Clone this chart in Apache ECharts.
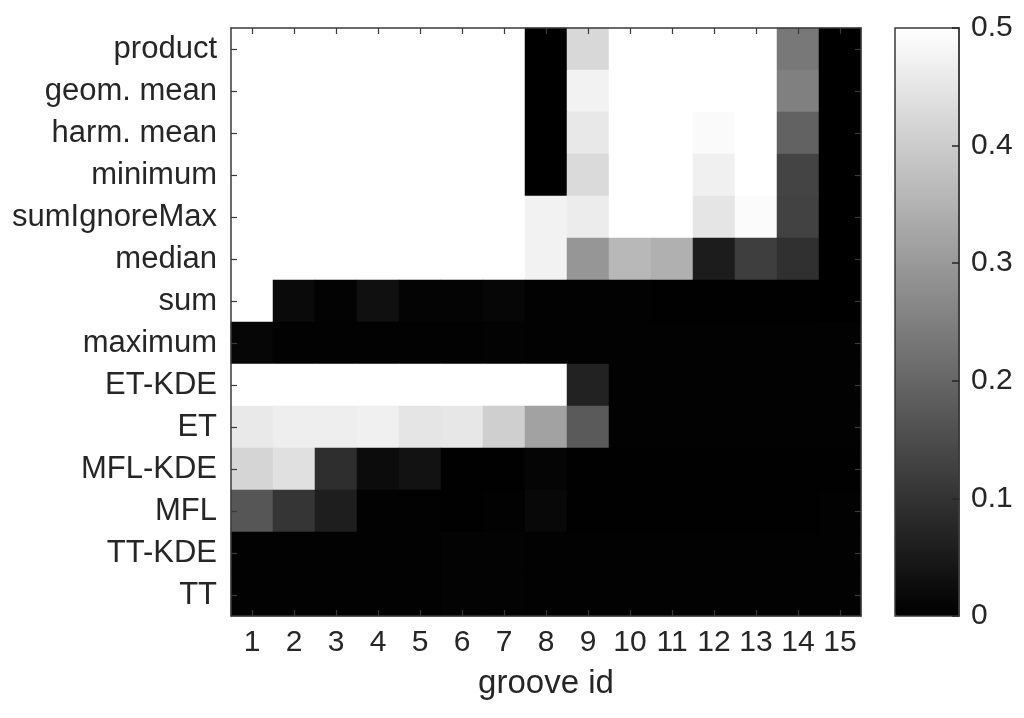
<!DOCTYPE html>
<html>
<head>
<meta charset="utf-8">
<script src="https://cdn.jsdelivr.net/npm/echarts@6/dist/echarts.min.js"></script>
<style>
  html, body { margin: 0; padding: 0; background: #fff; }
  #chart { width: 1024px; height: 718px; }
</style>
</head>
<body>
<div id="chart"></div>
<script>
// groove ids along x, methods along y (top to bottom)
var grooveIds = ['1', '2', '3', '4', '5', '6', '7', '8', '9', '10', '11', '12', '13', '14', '15'];
var methods = ['product', 'geom. mean', 'harm. mean', 'minimum', 'sumIgnoreMax', 'median', 'sum',
  'maximum', 'ET-KDE', 'ET', 'MFL-KDE', 'MFL', 'TT-KDE', 'TT'];

var product      = [0.5, 0.5, 0.5, 0.5, 0.5, 0.5, 0.5, 0, 0.423, 0.5, 0.5, 0.5, 0.5, 0.235, 0];
var geomMean     = [0.5, 0.5, 0.5, 0.5, 0.5, 0.5, 0.5, 0, 0.475, 0.5, 0.5, 0.5, 0.5, 0.251, 0];
var harmMean     = [0.5, 0.5, 0.5, 0.5, 0.5, 0.5, 0.5, 0, 0.455, 0.5, 0.5, 0.49, 0.5, 0.192, 0];
var minimum      = [0.5, 0.5, 0.5, 0.5, 0.5, 0.5, 0.5, 0, 0.427, 0.5, 0.5, 0.471, 0.5, 0.133, 0];
var sumIgnoreMax = [0.5, 0.5, 0.5, 0.5, 0.5, 0.5, 0.5, 0.475, 0.463, 0.5, 0.5, 0.449, 0.492, 0.129, 0];
var median       = [0.5, 0.5, 0.5, 0.5, 0.5, 0.5, 0.5, 0.475, 0.294, 0.361, 0.345, 0.055, 0.122, 0.094, 0];
var sum          = [0.5, 0.02, 0.006, 0.031, 0.008, 0.008, 0.012, 0.004, 0.004, 0.004, 0.002, 0.002, 0.002, 0.002, 0];
var maximum      = [0.012, 0.004, 0.004, 0.004, 0.004, 0.004, 0.006, 0.004, 0.004, 0.004, 0.004, 0.004, 0.004, 0.004, 0.004];
var etKde        = [0.5, 0.5, 0.5, 0.5, 0.5, 0.5, 0.5, 0.5, 0.067, 0.004, 0.004, 0.004, 0.004, 0.004, 0.004];
var et           = [0.457, 0.467, 0.467, 0.471, 0.449, 0.453, 0.406, 0.318, 0.176, 0.004, 0.004, 0.004, 0.004, 0.004, 0.004];
var mflKde       = [0.418, 0.44, 0.09, 0.024, 0.035, 0.002, 0.002, 0.01, 0.002, 0.002, 0.002, 0.002, 0.002, 0.002, 0.002];
var mfl          = [0.169, 0.104, 0.059, 0.004, 0.004, 0.002, 0.004, 0.016, 0.002, 0.002, 0.002, 0.002, 0.002, 0.002, 0.004];
var ttKde        = [0.004, 0.004, 0.004, 0.004, 0.004, 0.006, 0.006, 0.004, 0.004, 0.004, 0.004, 0.004, 0.004, 0.004, 0.004];
var tt           = [0.004, 0.004, 0.004, 0.004, 0.004, 0.006, 0.006, 0.004, 0.004, 0.004, 0.004, 0.004, 0.004, 0.004, 0.004];

var rows = [product, geomMean, harmMean, minimum, sumIgnoreMax, median, sum,
  maximum, etKde, et, mflKde, mfl, ttKde, tt];

var colorTicks = [0, 0.1, 0.2, 0.3, 0.4, 0.5];

var cells = [];
rows.forEach(function(row, y) {
  row.forEach(function(v, x) {
    cells.push([x, y, v]);
  });
});

var font = 'Liberation Sans, Arial, Helvetica, sans-serif';
var ink = '#262626';
var edge = '#3a3a3a';

// whole-pixel cells so neighbouring rects do not leave seams
var cell = 42;
var plotLeft = 231, plotTop = 28;
var plotW = cell * grooveIds.length, plotH = cell * methods.length;

var chart = echarts.init(document.getElementById('chart'), null, { renderer: 'canvas' });

chart.setOption({
  animation: false,
  backgroundColor: '#fff',
  textStyle: { fontFamily: font, color: ink },
  grid: [
    { left: plotLeft, top: plotTop, width: plotW, height: plotH, containLabel: false },
    { left: 895, top: plotTop, width: 64, height: plotH, show: true, z: 10,
      borderColor: edge, borderWidth: 1.5, backgroundColor: 'transparent' }
  ],
  visualMap: {
    type: 'continuous',
    z: 1,
    min: colorTicks[0],
    max: colorTicks[colorTicks.length - 1],
    seriesIndex: 0,
    calculable: false,
    orient: 'vertical',
    left: 895,
    top: plotTop,
    padding: 0,
    itemWidth: 64,
    itemHeight: plotH,
    text: null,
    showLabel: false,
    inRange: { color: ['#000000', '#ffffff'] }
  },
  xAxis: [
    {
      type: 'category', gridIndex: 0, data: grooveIds, position: 'bottom', z: 5,
      name: 'groove id', nameLocation: 'middle', nameGap: 51,
      nameTextStyle: { fontSize: 33, color: ink, fontFamily: font },
      axisLine: { show: true, lineStyle: { color: edge, width: 1.5 } },
      axisTick: { show: true, inside: true, alignWithLabel: true, length: 6, lineStyle: { color: edge, width: 1.2 } },
      axisLabel: { fontSize: 30, color: ink, margin: 12, interval: 0, fontFamily: font },
      splitLine: { show: false }
    },
    {
      type: 'category', gridIndex: 0, data: grooveIds, position: 'top', z: 5,
      axisLine: { show: true, lineStyle: { color: edge, width: 1.5 } },
      axisTick: { show: true, inside: true, alignWithLabel: true, length: 6, lineStyle: { color: edge, width: 1.2 } },
      axisLabel: { show: false },
      splitLine: { show: false }
    },
    { type: 'value', gridIndex: 1, show: false, min: 0, max: 1 }
  ],
  yAxis: [
    {
      type: 'category', gridIndex: 0, data: methods, inverse: true, position: 'left', z: 5,
      axisLine: { show: true, lineStyle: { color: edge, width: 1.5 } },
      axisTick: { show: true, inside: true, alignWithLabel: true, length: 6, lineStyle: { color: edge, width: 1.2 } },
      axisLabel: { fontSize: 31, color: ink, margin: 14, interval: 0, fontFamily: font },
      splitLine: { show: false }
    },
    {
      type: 'category', gridIndex: 0, data: methods, inverse: true, position: 'right', z: 5,
      axisLine: { show: true, lineStyle: { color: edge, width: 1.5 } },
      axisTick: { show: true, inside: true, alignWithLabel: true, length: 6, lineStyle: { color: edge, width: 1.2 } },
      axisLabel: { show: false },
      splitLine: { show: false }
    },
    {
      type: 'value', gridIndex: 1, position: 'right', z: 20, zlevel: 1,
      min: colorTicks[0], max: colorTicks[colorTicks.length - 1], interval: 0.1,
      axisLine: { show: true, onZero: false, lineStyle: { color: edge, width: 1.5 } },
      axisTick: { show: true, inside: true, length: 7, lineStyle: { color: '#262626', width: 1.5 } },
      axisLabel: {
        fontSize: 30, color: ink, margin: 12, fontFamily: font,
        formatter: function(v) { return v === 0 ? '0' : v.toFixed(1); }
      },
      splitLine: { show: false }
    }
  ],
  series: [
    {
      type: 'heatmap',
      xAxisIndex: 0,
      yAxisIndex: 0,
      data: cells,
      z: 2,
      itemStyle: { borderWidth: 0 },
      emphasis: { disabled: true }
    }
  ]
});
</script>
</body>
</html>
